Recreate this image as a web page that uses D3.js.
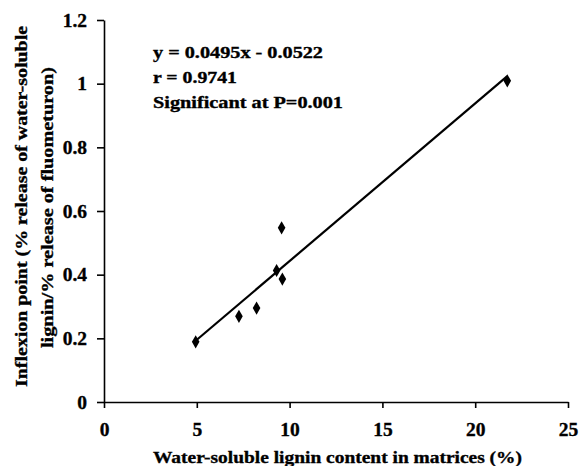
<!DOCTYPE html>
<html><head><meta charset="utf-8">
<script src="https://cdn.jsdelivr.net/npm/d3@7"></script>
<style>body{margin:0;background:#fff}text{font-family:"Liberation Serif","Times New Roman",serif;font-weight:bold;fill:#000;stroke:#000;stroke-width:0.35px}</style>
</head><body><svg id="c" width="579" height="466"></svg>
<script>
const xValues = [4.94, 7.27, 8.22, 9.30, 9.61, 9.57, 21.73];
const yValues = [0.189, 0.269, 0.295, 0.413, 0.386, 0.547, 1.009];
const xTicks = [0, 5, 10, 15, 20, 25];
const yTicks = [0, 0.2, 0.4, 0.6, 0.8, 1, 1.2];
const slope = 0.0495, intercept = -0.0522;
const annotation = ["y = 0.0495x - 0.0522", "r = 0.9741", "Significant at P=0.001"];
const annotationWidths = [170, 84, 190];
const xTitle = "Water-soluble lignin content in matrices (%)";
const yTitle = ["Inflexion point (% release of water-soluble", "lignin/% release of fluometuron)"];
const yTitleWidths = [361, 281];

const svg = d3.select("#c");
const x = d3.scaleLinear().domain([0, 25]).range([104, 568]);
const y = d3.scaleLinear().domain([0, 1.2]).range([402, 20]);

const xa = svg.append("g").attr("transform", "translate(0,402)")
  .call(d3.axisBottom(x).tickValues(xTicks).tickFormat(d3.format("d")).tickSize(6).tickPadding(14).tickSizeOuter(0));
const ya = svg.append("g").attr("transform", "translate(104,0)")
  .call(d3.axisLeft(y).tickValues(yTicks).tickFormat(d => d3.format("")(d)).tickSize(7).tickPadding(10).tickSizeOuter(0));
[xa, ya].forEach(a => {
  a.selectAll("path,line").attr("stroke", "#000").attr("stroke-width", 1.6);
  a.selectAll("text").style("font-size", "19.5px").style("font-family", '"Liberation Serif",serif').style("font-weight", "bold");
});

// regression line
const xMin = d3.min(xValues), xMax = d3.max(xValues);
svg.append("line")
  .attr("x1", x(xMin)).attr("y1", y(slope * xMin + intercept))
  .attr("x2", x(xMax)).attr("y2", y(slope * xMax + intercept))
  .attr("stroke", "#000").attr("stroke-width", 2.2);

svg.selectAll(".pt").data(xValues.map((v, i) => [v, yValues[i]])).enter()
  .append("path").attr("class", "pt")
  .attr("d", d3.symbol(d3.symbolDiamond, 50))
  .attr("transform", d => `translate(${x(d[0])},${y(d[1])})`)
  .attr("fill", "#000");

svg.selectAll(".ann").data(annotation).enter().append("text")
  .attr("x", 153).attr("y", (d, i) => 58 + i * 25)
  .attr("textLength", (d, i) => annotationWidths[i]).attr("lengthAdjust", "spacingAndGlyphs")
  .style("font-size", "16.5px").text(d => d);

svg.append("text").attr("x", 337.5).attr("y", 463).attr("text-anchor", "middle")
  .attr("textLength", 369).attr("lengthAdjust", "spacingAndGlyphs")
  .style("font-size", "17.5px").text(xTitle);

svg.selectAll(".yt").data(yTitle).enter().append("text")
  .attr("transform", (d, i) => `translate(${27 + i * 26},${[206.5, 207.5][i]}) rotate(-90)`)
  .attr("text-anchor", "middle")
  .attr("textLength", (d, i) => yTitleWidths[i]).attr("lengthAdjust", "spacingAndGlyphs")
  .style("font-size", "17.5px").text(d => d);
</script></body></html>
